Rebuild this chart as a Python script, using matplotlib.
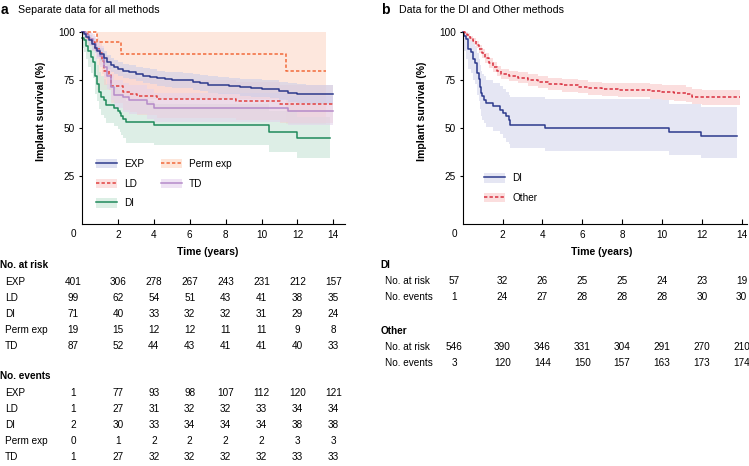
import matplotlib
matplotlib.use("Agg")
import matplotlib.pyplot as plt
from matplotlib.lines import Line2D
from matplotlib.patches import Patch
from matplotlib.transforms import blended_transform_factory

plt.rcParams["font.family"] = ["Liberation Sans", "DejaVu Sans"]

# DATA - panel a (Kaplan-Meier steps)
exp_t = [0, 0.1, 0.25, 0.4, 0.55, 0.7, 0.85, 1.0, 1.2, 1.4, 1.6, 1.8, 2.0, 2.3, 2.6, 3.0, 3.4, 3.8,
         4.2, 4.6, 5.0, 5.6, 6.2, 6.6, 7.0, 7.6, 8.2, 8.8, 9.4, 10.0, 10.5, 11.0, 11.5, 12.0, 12.5, 14.0]
exp_s = [100, 99, 97.5, 96, 94, 92, 90, 88.5, 86.5, 84.5, 83, 81.8, 80.8, 79.8, 79.2, 78.3, 77.4, 76.7,
         76.0, 75.5, 75.2, 74.9, 74.2, 73.4, 72.7, 72.3, 72.0, 71.4, 70.9, 70.6, 70.2, 69.4, 68.5, 68.0, 67.7, 67.7]
exp_lo = [100, 97.5, 95.5, 93.5, 91, 89, 87, 85, 83, 81, 79.5, 78.2, 77.2, 76.2, 75.5, 74.5, 73.5, 72.8,
          72.0, 71.5, 71.1, 70.8, 70.0, 69.2, 68.4, 68.0, 67.6, 67.0, 66.4, 66.0, 65.5, 64.6, 63.6, 63.0, 62.7, 62.7]
exp_hi = [100, 100, 99.5, 98.5, 97, 95, 93, 92, 90, 88, 86.5, 85.4, 84.4, 83.4, 82.9, 82.1, 81.3, 80.6,
          80.0, 79.5, 79.3, 79.0, 78.4, 77.6, 77.0, 76.6, 76.4, 75.8, 75.4, 75.2, 74.9, 74.2, 73.4, 73.0, 72.7, 72.7]

ld_t = [0, 0.15, 0.35, 0.55, 0.75, 0.95, 1.1, 1.2, 1.5, 1.6, 2.3, 2.7, 3.05, 4.2, 8.6, 11.05, 14.0]
ld_s = [100, 99, 97, 95, 92, 89, 85, 80, 78, 71.8, 68.8, 68.0, 66.6, 65.4, 64.3, 62.6, 62.6]
ld_lo = [100, 96, 93, 90.5, 86.5, 83, 78, 72.5, 70, 63, 59.5, 58.5, 57, 55.5, 54.5, 52.5, 52.5]
ld_hi = [100, 100, 100, 99, 97, 95, 92, 87.5, 86, 80.5, 78, 77.5, 76, 75, 74, 72.5, 72.5]

di_t = [0, 0.1, 0.2, 0.35, 0.5, 0.6, 0.7, 0.75, 0.85, 0.95, 1.05, 1.2, 1.35, 1.8, 2.0, 2.1, 2.2, 2.3,
        2.45, 4.0, 10.4, 12.0, 13.8]
di_s = [97.2, 95.8, 93, 90, 87.3, 84.5, 80, 77, 73, 69, 66.2, 64.8, 62, 60.6, 59.2, 57.7, 56.3, 54.9,
        53.1, 51.5, 47.9, 44.9, 44.9]
di_lo = [92, 89.5, 86, 82, 79, 76, 71, 68, 64, 60, 57, 55.5, 52.5, 51, 49.5, 48, 46.5, 45,
         42.5, 41, 37.5, 34.5, 34.5]
di_hi = [100, 100, 99, 97, 95, 93, 89, 86.5, 83, 79.5, 77, 75.5, 73, 71.5, 70, 68.5, 67, 65.5,
         64, 62.5, 59, 56, 56]

perm_t = [0, 0.84, 2.17, 11.37, 13.6]
perm_s = [100, 94.8, 88.7, 79.6, 79.6]
perm_lo = [100, 70, 65, 52, 52]
perm_hi = [100, 100, 100, 100, 100]

td_t = [0, 0.2, 0.4, 0.6, 0.8, 1.0, 1.2, 1.4, 1.6, 1.8, 2.3, 2.6, 3.6, 4.0, 11.5, 14.0]
td_s = [100, 98.5, 96.5, 94, 91, 87.5, 82, 77, 71.5, 67.5, 66, 64.8, 62.6, 60.5, 59.1, 59.1]
td_lo = [100, 96, 93, 90, 86, 82, 76, 70.5, 64.5, 60.5, 58.5, 57.5, 55, 53, 51.5, 51.5]
td_hi = [100, 100, 99.5, 98, 96, 93, 88, 83.5, 78.5, 75, 73.5, 72.5, 70.5, 68.5, 67, 67]

# DATA - panel b
bdi_t = [0, 0.05, 0.15, 0.25, 0.4, 0.5, 0.6, 0.7, 0.8, 0.85, 0.9, 0.95, 1.05, 1.15, 1.5, 1.85, 2.0,
         2.15, 2.3, 2.37, 4.13, 10.37, 11.94, 13.75]
bdi_s = [100, 98.2, 96.5, 91.2, 89.5, 86, 84.2, 79, 75.5, 71.7, 68.4, 66.6, 64.9, 63.1, 61.4, 59.6, 57.9,
         56.1, 54.4, 51.9, 50.1, 47.9, 45.8, 45.8]
bdi_lo = [100, 90, 86, 81, 79, 75, 73, 67.5, 64, 60, 56.5, 54.5, 52.5, 50.5, 48.5, 47, 45,
          43, 41.5, 39.5, 38, 36, 34.5, 34.5]
bdi_hi = [100, 100, 100, 97.5, 96.5, 94, 93, 89, 86, 83, 80, 78.5, 77, 75, 73.5, 72, 70.5,
          69, 67.5, 66.5, 65, 62.5, 61, 61]

oth_t = [0, 0.1, 0.2, 0.35, 0.5, 0.65, 0.8, 0.95, 1.1, 1.3, 1.5, 1.7, 1.9, 2.3, 2.8, 3.3, 3.8, 4.3,
         5.0, 5.8, 6.3, 7.0, 7.8, 8.6, 9.4, 10.0, 10.6, 11.2, 11.5, 12.0, 13.9]
oth_s = [100, 99.5, 98.5, 97, 95.5, 93.5, 91.5, 89, 86.5, 84, 81.8, 79.8, 78.3, 77.2, 76.2, 75.0, 74.0, 73.0,
         72.3, 71.6, 70.9, 70.3, 69.9, 69.7, 69.2, 68.8, 68.3, 67.6, 66.5, 66.0, 66.0]
oth_lo = [100, 98.8, 97.5, 95.7, 93.9, 91.7, 89.4, 86.7, 84.0, 81.4, 79.1, 77.0, 75.5, 74.4, 73.3, 72.0, 71.0, 69.9,
          69.1, 68.3, 67.5, 66.8, 66.3, 66.0, 65.4, 64.9, 64.3, 63.5, 62.4, 62.0, 62.0]
oth_hi = [100, 100, 99.5, 98.3, 97.1, 95.3, 93.6, 91.3, 89.0, 86.6, 84.5, 82.6, 81.1, 80.0, 79.1, 78.0, 77.0, 76.1,
          75.5, 74.9, 74.3, 73.8, 73.5, 73.4, 73.0, 72.7, 72.3, 71.7, 70.6, 70.0, 70.0]

# risk tables
table_times = [0, 2, 4, 6, 8, 10, 12, 14]
a_groups = ["EXP", "LD", "DI", "Perm exp", "TD"]
a_at_risk = [[401, 306, 278, 267, 243, 231, 212, 157],
             [99, 62, 54, 51, 43, 41, 38, 35],
             [71, 40, 33, 32, 32, 31, 29, 24],
             [19, 15, 12, 12, 11, 11, 9, 8],
             [87, 52, 44, 43, 41, 41, 40, 33]]
a_events = [[1, 77, 93, 98, 107, 112, 120, 121],
            [1, 27, 31, 32, 32, 33, 34, 34],
            [2, 30, 33, 34, 34, 34, 38, 38],
            [0, 1, 2, 2, 2, 2, 3, 3],
            [1, 27, 32, 32, 32, 32, 33, 33]]
b_groups = ["DI", "Other"]
b_at_risk = [[57, 32, 26, 25, 25, 24, 23, 19],
             [546, 390, 346, 331, 304, 291, 270, 210]]
b_events = [[1, 24, 27, 28, 28, 28, 30, 30],
            [3, 120, 144, 150, 157, 163, 173, 174]]

# STYLE
W, H = 749, 466
FS = 7.2
NAVY = "#2d3a8c"
RED = "#e2413f"
ORANGE = "#f26a3b"
GREEN = "#1f8a5b"
LILAC = "#b58bc9"
DASH = (2.2, 1.4)

fig = plt.figure(figsize=(W / 100, H / 100), dpi=100)


def px_axes(x0, x1, y_top, y_bot):
    return fig.add_axes([x0 / W, 1 - y_bot / H, (x1 - x0) / W, (y_bot - y_top) / H])


def style_axes(ax, xmax, zero_x):
    ax.set_xlim(0, xmax)
    ax.set_ylim(0, 100)
    for s in ["top", "right"]:
        ax.spines[s].set_visible(False)
    for s in ["left", "bottom"]:
        ax.spines[s].set_linewidth(0.8)
    ax.set_xticks([2, 4, 6, 8, 10, 12, 14])
    ax.set_yticks([25, 50, 75, 100])
    ax.tick_params(axis="x", direction="in", length=3.5, width=0.8, pad=4, labelsize=FS)
    ax.tick_params(axis="y", direction="out", length=2.5, width=0.8, pad=2.5, labelsize=FS)
    ax.text(zero_x, -0.027, "0", transform=blended_transform_factory(ax.transData, ax.transAxes),
            ha="center", va="top", fontsize=FS)
    ax.set_xlabel("Time (years)", fontsize=7.6, fontweight="bold")
    ax.set_ylabel("Implant survival (%)", fontsize=7.6, fontweight="bold")


def km(ax, t, s, lo, hi, color, band, dashed=False, band_alpha=1.0):
    ax.fill_between(t, lo, hi, step="post", color=band, alpha=band_alpha, lw=0, clip_on=False)
    ln, = ax.step(t, s, where="post", color=color, lw=1.1, clip_on=False)
    if dashed:
        ln.set_dashes(DASH)
    return ln


# PANEL A
ax_a = px_axes(82, 345, 32.3, 224)
style_axes(ax_a, 14.65, -0.5)
km(ax_a, perm_t, perm_s, perm_lo, perm_hi, ORANGE, "#fde0d2", dashed=True, band_alpha=0.75)
km(ax_a, di_t, di_s, di_lo, di_hi, GREEN, "#cfe8dc", band_alpha=0.7)
km(ax_a, ld_t, ld_s, ld_lo, ld_hi, RED, "#f7c9c9", dashed=True, band_alpha=0.45)
km(ax_a, td_t, td_s, td_lo, td_hi, LILAC, "#e3d2ec", band_alpha=0.55)
km(ax_a, exp_t, exp_s, exp_lo, exp_hi, NAVY, "#c9cde9", band_alpha=0.55)
ax_a.xaxis.set_label_coords(0.478, -0.12)
ax_a.yaxis.set_label_coords(-0.135, 0.59)


def handle(color, band, dashed=False):
    ln = Line2D([], [], color=color, lw=1.1)
    if dashed:
        ln.set_dashes(DASH)
    return (Patch(facecolor=band, edgecolor="none"), ln)


a_handles = [handle(NAVY, "#dfe1f1"), handle(RED, "#fbe1e0", True), handle(GREEN, "#dcefe5"),
             handle(ORANGE, "#fde6da", True), handle(LILAC, "#efe3f4")]
ax_a.legend(a_handles, ["EXP", "LD", "DI", "Perm exp", "TD"], ncol=2, frameon=False,
            loc="upper left", bbox_to_anchor=(0.055, 0.34), fontsize=FS,
            handlelength=2.1, handleheight=1.1, handletextpad=0.7, labelspacing=0.95,
            columnspacing=1.6, borderpad=0, borderaxespad=0)

# PANEL B
ax_b = px_axes(462.7, 747, 32.3, 224)
style_axes(ax_b, 14.27, -0.42)
km(ax_b, bdi_t, bdi_s, bdi_lo, bdi_hi, NAVY, "#e5e6f3")
km(ax_b, oth_t, oth_s, oth_lo, oth_hi, "#d9303f", "#fbdede", dashed=True)
ax_b.xaxis.set_label_coords(0.489, -0.12)
ax_b.yaxis.set_label_coords(-0.127, 0.59)
b_handles = [handle(NAVY, "#e5e6f3"), handle("#d9303f", "#fbdede", True)]
ax_b.legend(b_handles, ["DI", "Other"], frameon=False, loc="upper left",
            bbox_to_anchor=(0.075, 0.265), fontsize=FS, handlelength=2.1, handleheight=1.1,
            handletextpad=0.7, labelspacing=0.95, borderpad=0, borderaxespad=0)

# TITLES
fig.text(1 / W, 1 - 9.5 / H, "a", fontsize=10, fontweight="bold", va="center", ha="left")
fig.text(18 / W, 1 - 10 / H, "Separate data for all methods", fontsize=7.7, va="center", ha="left")
fig.text(381 / W, 1 - 9.5 / H, "b", fontsize=10, fontweight="bold", va="center", ha="left")
fig.text(399 / W, 1 - 10 / H, "Data for the DI and Other methods", fontsize=7.7, va="center", ha="left")


# TABLES
def table_row(ax, y_px, label, values, label_x, zero_x):
    fig.text(label_x / W, 1 - y_px / H, label, fontsize=FS, va="center", ha="left")
    tr = blended_transform_factory(ax.transData, fig.transFigure)
    for t, val in zip(table_times, values):
        ax.text(t if t > 0 else zero_x, 1 - y_px / H, str(val), transform=tr,
                fontsize=FS, ha="center", va="center", clip_on=False)


fig.text(0.5 / W, 1 - 265 / H, "No. at risk", fontsize=FS, fontweight="bold", va="center")
for i, (g, vals) in enumerate(zip(a_groups, a_at_risk)):
    table_row(ax_a, 282 + 16 * i, g, vals, 5, -0.5)
fig.text(0.5 / W, 1 - 376 / H, "No. events", fontsize=FS, fontweight="bold", va="center")
for i, (g, vals) in enumerate(zip(a_groups, a_events)):
    table_row(ax_a, 393 + 16 * i, g, vals, 5, -0.5)

for k, g in enumerate(b_groups):
    y0 = 265 + 66 * k
    fig.text(380.5 / W, 1 - y0 / H, g, fontsize=FS, fontweight="bold", va="center")
    table_row(ax_b, y0 + 16.5, "No. at risk", b_at_risk[k], 385, -0.42)
    table_row(ax_b, y0 + 32, "No. events", b_events[k], 385, -0.42)

fig.savefig("out.png", dpi=100)
